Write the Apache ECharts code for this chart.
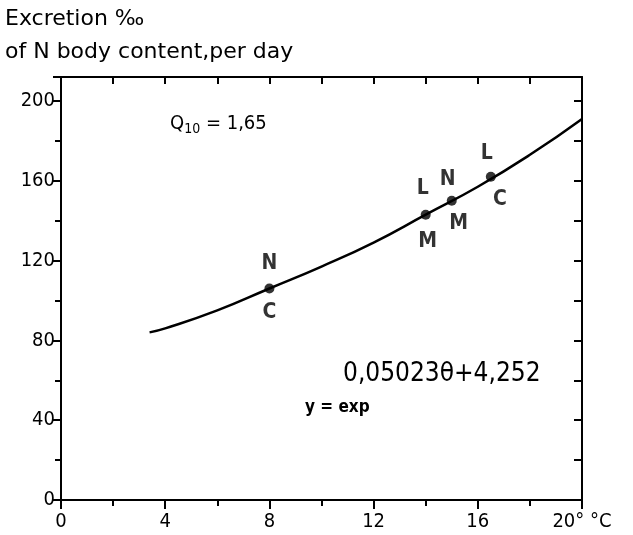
<!DOCTYPE html>
<html>
<head>
<meta charset="utf-8">
<script src="https://cdn.jsdelivr.net/npm/echarts@6/dist/echarts.min.js"></script>
<style>
  html, body { margin: 0; padding: 0; background: #fff; }
  #chart { width: 633px; height: 535px; }
</style>
</head>
<body>
<div id="chart"></div>
<script>
// curve (temperature, excretion)
const curveX = [3.4, 4, 6, 8, 10, 12, 14, 16, 18, 20];
const curveY = [84, 86, 95, 106, 117, 129, 143, 157, 173, 191];

// measured points
const pointX = [8, 14, 15, 16.5];
const pointY = [106, 143, 150, 162];
const topLetters = ['N', 'L', 'N', 'L'];
const bottomLetters = ['C', 'M', 'M', 'C'];

const xTicks = [0, 4, 8, 12, 16, 20];
const yTicks = [0, 40, 80, 120, 160, 200];

const font = '"DejaVu Sans Condensed", "DejaVu Sans", sans-serif';
const wideFont = '"DejaVu Sans", sans-serif';

var myChart = echarts.init(document.getElementById('chart'));

const topOffsets = [[0, -9], [-3, -11], [-4, -6], [-4, -8]];
const bottomOffsets = [[0, 9], [2, 11], [7, 7], [9, 7]];

myChart.setOption({
  animation: false,
  backgroundColor: '#fff',
  grid: { left: 61, right: 51, top: 77, bottom: 35 },
  xAxis: [{
    type: 'value',
    min: 0, max: 20, interval: 4,
    position: 'bottom',
    splitLine: { show: false },
    axisLine: { onZero: false, lineStyle: { color: '#000', width: 2 } },
    axisTick: { length: 9, lineStyle: { color: '#000', width: 2 } },
    minorTick: { show: true, splitNumber: 2, length: 6, lineStyle: { color: '#000', width: 2 } },
    axisLabel: {
      color: '#000', fontSize: 20, fontFamily: font, margin: 12,
      formatter: function (v) { return v === 20 ? '20° °C' : (xTicks.indexOf(v) >= 0 ? String(v) : ''); }
    }
  }, {
    type: 'value',
    min: 0, max: 20, interval: 2,
    position: 'top',
    splitLine: { show: false },
    axisLine: { onZero: false, lineStyle: { color: '#000', width: 2 } },
    axisTick: { inside: true, length: 7, lineStyle: { color: '#000', width: 2 } },
    axisLabel: { show: false }
  }],
  yAxis: [{
    type: 'value',
    min: 0, max: 212, interval: 40,
    position: 'left',
    splitLine: { show: false },
    axisLine: { show: true, onZero: false, lineStyle: { color: '#000', width: 2 } },
    axisTick: { show: true, length: 8, lineStyle: { color: '#000', width: 2 } },
    minorTick: { show: true, splitNumber: 2, length: 6, lineStyle: { color: '#000', width: 2 } },
    axisLabel: {
      color: '#000', fontSize: 20, fontFamily: font, margin: 6,
      formatter: function (v) { return yTicks.indexOf(v) >= 0 ? String(v) : ''; }
    }
  }, {
    type: 'value',
    min: 0, max: 212, interval: 20,
    position: 'right',
    splitLine: { show: false },
    axisLine: { show: true, onZero: false, lineStyle: { color: '#000', width: 2 } },
    axisTick: { show: true, inside: true, length: 8, lineStyle: { color: '#000', width: 2 } },
    axisLabel: { show: false }
  }],
  graphic: [
    { type: 'text', left: 5, top: 8, style: { text: 'Excretion ‰', font: '22px ' + wideFont, fill: '#000' } },
    { type: 'text', left: 5, top: 41, style: { text: 'of N body content,per day', font: '22px ' + wideFont, fill: '#000' } },
    { type: 'text', left: 170, top: 114, style: {
      text: '{a|Q}{s|10}{a| = 1,65}',
      rich: {
        a: { fontSize: 20, fontFamily: font, color: '#000' },
        s: { fontSize: 14, fontFamily: font, color: '#000', padding: [10, 0, 0, 0] }
      }
    } },
    { type: 'text', left: 343, top: 361, style: { text: '0,05023θ+4,252', font: '26px ' + font, fill: '#000' } },
    { type: 'text', left: 305, top: 399, style: { text: 'y = exp', font: 'bold 17px ' + font, fill: '#000' } }
  ],
  series: [{
    type: 'line',
    data: curveX.map(function (x, i) { return [x, curveY[i]]; }),
    smooth: true,
    showSymbol: false,
    lineStyle: { color: '#000', width: 2.5 }
  }, {
    type: 'scatter',
    data: pointX.map(function (x, i) { return [x, pointY[i]]; }),
    symbol: 'circle',
    symbolSize: 10,
    itemStyle: { color: '#000' },
    z: 3
  }, {
    type: 'scatter',
    symbolSize: 0,
    data: pointX.map(function (x, i) {
      return {
        value: [x, pointY[i]],
        label: { show: true, position: 'top', offset: topOffsets[i], formatter: topLetters[i],
          color: '#000', fontSize: 21, fontWeight: 'bold', fontFamily: font }
      };
    })
  }, {
    type: 'scatter',
    symbolSize: 0,
    data: pointX.map(function (x, i) {
      return {
        value: [x, pointY[i]],
        label: { show: true, position: 'bottom', offset: bottomOffsets[i], formatter: bottomLetters[i],
          color: '#000', fontSize: 21, fontWeight: 'bold', fontFamily: font }
      };
    })
  }]
});
</script>
</body>
</html>
